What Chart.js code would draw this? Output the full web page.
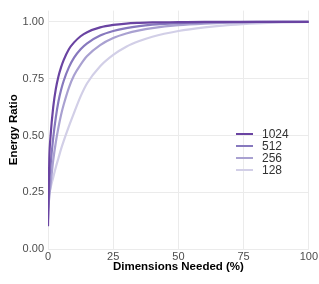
<!DOCTYPE html>
<html><head><meta charset="utf-8">
<script src="https://cdn.jsdelivr.net/npm/chart.js@4"></script>
<style>
html,body{margin:0;padding:0;background:#fff;}
#wrap{position:relative;width:319px;height:284px;}
#legend{position:absolute;left:236px;top:128px;font:12px "Liberation Sans",Arial,sans-serif;color:#333;}
.row{height:12px;line-height:12px;display:flex;align-items:center;}
.sw{width:17px;height:2px;margin-right:9px;}
</style></head>
<body><div id="wrap"><canvas id="c" width="319" height="284"></canvas><div id="legend"></div></div>
<script>
const dims = [0, 0.5, 1, 2, 3, 4, 5, 6, 8, 10, 12.5, 15, 20, 25, 30, 35, 40, 50, 60, 70, 80, 90, 100];
const seriesNames = ['1024', '512', '256', '128'];
const ratio1024 = [0.10, 0.40, 0.50, 0.625, 0.705, 0.76, 0.80, 0.832, 0.88, 0.91, 0.937, 0.955, 0.976, 0.987, 0.993, 0.996, 0.998, 0.999, 1.0, 1.0, 1.0, 1.0, 1.0];
const ratio512  = [0.13, 0.29, 0.37, 0.49, 0.58, 0.65, 0.70, 0.74, 0.80, 0.843, 0.88, 0.906, 0.94, 0.96, 0.973, 0.982, 0.988, 0.995, 0.998, 0.999, 1.0, 1.0, 1.0];
const ratio256  = [0.17, 0.23, 0.285, 0.39, 0.47, 0.535, 0.59, 0.635, 0.71, 0.765, 0.812, 0.85, 0.898, 0.929, 0.949, 0.963, 0.973, 0.986, 0.993, 0.997, 0.999, 1.0, 1.0];
const ratio128  = [0.22, 0.245, 0.27, 0.315, 0.36, 0.40, 0.44, 0.475, 0.54, 0.60, 0.672, 0.73, 0.805, 0.855, 0.891, 0.916, 0.935, 0.96, 0.976, 0.987, 0.994, 0.998, 1.0];
const yTicks = [0, 0.25, 0.5, 0.75, 1.0];
const xTicks = [0, 25, 50, 75, 100];
const colors = ['#6a44a2', '#8779be', '#a9a1d1', '#d2cfe7'];

const allSeries = [ratio1024, ratio512, ratio256, ratio128];
Chart.defaults.font.family = '"Liberation Sans", Arial, sans-serif';

const datasets = allSeries.map((vals, i) => ({
  label: seriesNames[i],
  data: dims.map((d, j) => ({x: d, y: vals[j]})),
  borderColor: colors[i],
  borderWidth: 2.2,
  pointRadius: 0,
  cubicInterpolationMode: 'monotone',
  fill: false
}));

new Chart(document.getElementById('c'), {
  type: 'line',
  data: { datasets },
  options: {
    responsive: false,
    animation: false,
    devicePixelRatio: 1,
    layout: { padding: { top: 10, right: 10, bottom: 10, left: 0 } },
    plugins: { legend: { display: false }, tooltip: { enabled: false } },
    scales: {
      x: {
        type: 'linear', min: 0, max: 100,
        afterBuildTicks: s => { s.ticks = xTicks.map(v => ({value: v})); },
        afterFit: s => { s.height = 25; },
        grid: { color: '#ebebeb', lineWidth: 1, drawTicks: false },
        border: { display: false },
        ticks: { color: '#4d4d4d', font: { size: 11 }, padding: 1, maxRotation: 0 },
        title: { display: true, text: 'Dimensions Needed (%)', color: '#000', font: { size: 11.5, weight: 'bold' }, padding: 0 }
      },
      y: {
        min: 0, max: 1.05,
        afterBuildTicks: s => { s.ticks = yTicks.map(v => ({value: v})); },
        afterFit: s => { s.width = 48; },
        grid: { color: '#ebebeb', lineWidth: 1, drawTicks: false },
        border: { display: false },
        ticks: { color: '#4d4d4d', font: { size: 11 }, padding: 4, callback: v => v.toFixed(2) },
        title: { display: true, text: 'Energy Ratio', color: '#000', font: { size: 11.5, weight: 'bold' }, padding: { top: 7, bottom: 0 } }
      }
    }
  }
});

const leg = document.getElementById('legend');
seriesNames.forEach((n, i) => {
  const r = document.createElement('div'); r.className = 'row';
  const sw = document.createElement('span'); sw.className = 'sw'; sw.style.background = colors[i];
  const t = document.createElement('span'); t.textContent = n;
  r.appendChild(sw); r.appendChild(t); leg.appendChild(r);
});
</script>
</body></html>
